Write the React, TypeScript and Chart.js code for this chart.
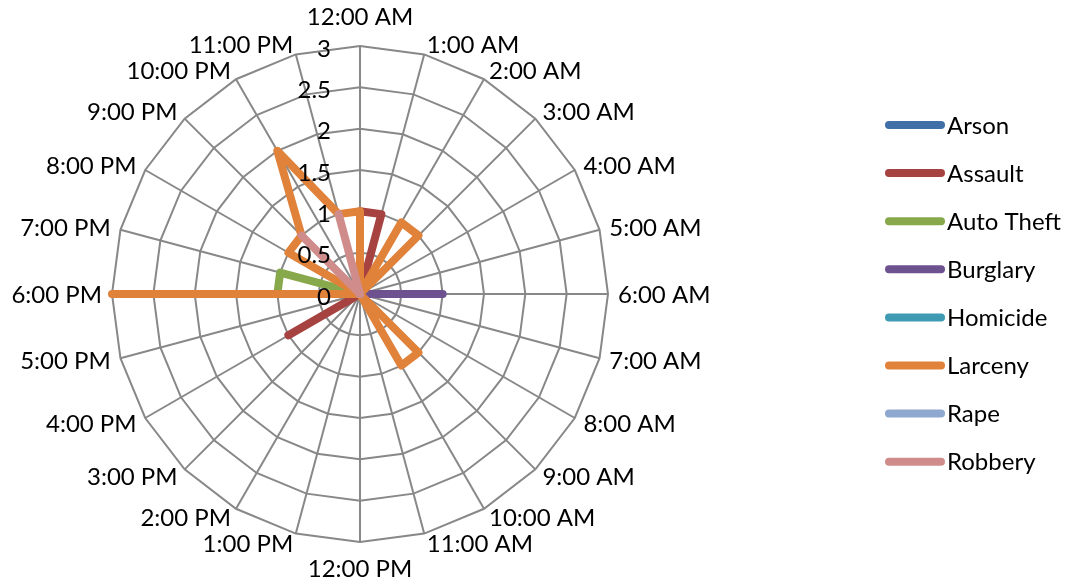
import React, { useEffect, useRef } from "react";
import { Chart, registerables } from "chart.js";

Chart.register(...registerables);

const hours = [
  "12:00 AM", "1:00 AM", "2:00 AM", "3:00 AM", "4:00 AM", "5:00 AM",
  "6:00 AM", "7:00 AM", "8:00 AM", "9:00 AM", "10:00 AM", "11:00 AM",
  "12:00 PM", "1:00 PM", "2:00 PM", "3:00 PM", "4:00 PM", "5:00 PM",
  "6:00 PM", "7:00 PM", "8:00 PM", "9:00 PM", "10:00 PM", "11:00 PM",
];

const tickValues = [0, 0.5, 1, 1.5, 2, 2.5, 3];
const tickLabels = ["0", "0.5", "1", "1.5", "2", "2.5", "3"];

const seriesNames = ["Arson", "Assault", "Auto Theft", "Burglary", "Homicide", "Larceny", "Rape", "Robbery"];
const seriesColors = ["#4170a9", "#a6423f", "#87a94b", "#6e5290", "#3f9bb4", "#e0823a", "#8ea8cf", "#d08c8b"];

// 12AM ... 11PM
const arson = [0, 0, 0, 0, 0, 0, 0, 0, 0, 0, 0, 0, 0, 0, 0, 0, 0, 0, 0, 0, 0, 0, 0, 0];
const assault = [1, 1, 0, 0, 0, 0, 0, 0, 0, 0, 0, 0, 0, 0, 0, 0, 1, 0, 0, 0, 0, 0, 0, 0];
const autoTheft = [0, 0, 0, 0, 0, 0, 0, 0, 0, 0, 0, 0, 0, 0, 0, 0, 0, 0, 1, 1, 0, 0, 0, 0];
const burglary = [0, 0, 0, 0, 0, 0, 1, 0, 0, 0, 0, 0, 0, 0, 0, 0, 0, 0, 0, 0, 0, 0, 0, 0];
const homicide = [0, 0, 0, 0, 0, 0, 0, 0, 0, 0, 0, 0, 0, 0, 0, 0, 0, 0, 0, 0, 0, 0, 0, 0];
const larceny = [1, 0, 1, 1, 0, 0, 0, 0, 0, 1, 1, 0, 0, 0, 0, 0, 0, 0, 3, 0, 1, 1, 2, 1];
const rape = [0, 0, 0, 0, 0, 0, 0, 0, 0, 0, 0, 0, 0, 0, 0, 0, 0, 0, 0, 0, 0, 0, 0, 0];
const robbery = [0, 0, 0, 0, 0, 0, 0, 0, 0, 0, 0, 0, 0, 0, 0, 0, 0, 0, 0, 0, 0, 1, 0, 1];

const seriesData = [arson, assault, autoTheft, burglary, homicide, larceny, rape, robbery];

const FONT = "24px Lato";
const GRID = "#888888";

const labelPlugin = {
  id: "excelLabels",
  afterDatasetsDraw(chart: any) {
    const r = chart.scales.r;
    const ctx = chart.ctx as CanvasRenderingContext2D;
    ctx.save();
    ctx.font = FONT;
    ctx.fillStyle = "#000";
    ctx.textBaseline = "alphabetic";

    // tick labels
    ctx.textAlign = "right";
    tickValues.forEach((v, i) => {
      const d = r.getDistanceFromCenterForValue(v);
      ctx.fillText(tickLabels[i], r.xCenter - 29, r.yCenter - d + 10.5);
    });

    // point labels
    hours.forEach((lab, i) => {
      const a = r.getIndexAngle(i);
      const s = Math.sin(a);
      const c = Math.cos(a);
      const p = r.getPointPosition(i, r.drawingArea);
      let x = p.x;
      let y = p.y;
      if (Math.abs(s) < 0.01) {
        ctx.textAlign = "center";
        y = c > 0 ? p.y - 30 : p.y + 26;
      } else {
        ctx.textAlign = s > 0 ? "left" : "right";
        x = p.x + 10 * s;
        y = p.y - 10 * c;
      }
      ctx.fillText(lab, x, y + 8.6);
    });

    // legend
    seriesNames.forEach((name, i) => {
      const y = 125 + i * 48.1;
      ctx.strokeStyle = seriesColors[i];
      ctx.lineWidth = 8;
      ctx.lineCap = "round";
      ctx.beginPath();
      ctx.moveTo(889, y);
      ctx.lineTo(941, y);
      ctx.stroke();
      ctx.textAlign = "left";
      ctx.fillStyle = "#000";
      ctx.fillText(name, 947, y + 8.6);
    });
    ctx.restore();
  },
};

export default function App() {
  const ref = useRef<HTMLCanvasElement | null>(null);

  useEffect(() => {
    if (!ref.current) return;
    const chart = new Chart(ref.current, {
      type: "radar",
      data: {
        labels: hours,
        datasets: seriesNames.map((name, i) => ({
          label: name,
          data: seriesData[i],
          borderColor: seriesColors[i],
          backgroundColor: "transparent",
          borderWidth: 8,
          borderJoinStyle: "round" as const,
          borderCapStyle: "round" as const,
          pointRadius: 0,
          pointHoverRadius: 0,
          fill: false,
          tension: 0,
          order: -i,
        })),
      },
      options: {
        responsive: false,
        animation: false,
        devicePixelRatio: 1,
        layout: { padding: { left: 112, right: 464, top: 46, bottom: 39 } },
        plugins: {
          legend: { display: false },
          tooltip: { enabled: false },
        },
        scales: {
          r: {
            min: 0,
            max: 3,
            startAngle: 0,
            ticks: { display: false, stepSize: 0.5 },
            pointLabels: { display: false },
            grid: { color: GRID, lineWidth: 2 },
            angleLines: { color: GRID, lineWidth: 2 },
          },
        },
      },
      plugins: [labelPlugin],
    });
    return () => chart.destroy();
  }, []);

  return (
    <div style={{ position: "fixed", left: 0, top: 0, width: 1072, height: 581, background: "#fff" }}>
      <canvas ref={ref} width={1072} height={581} style={{ display: "block", width: 1072, height: 581 }} />
    </div>
  );
}
